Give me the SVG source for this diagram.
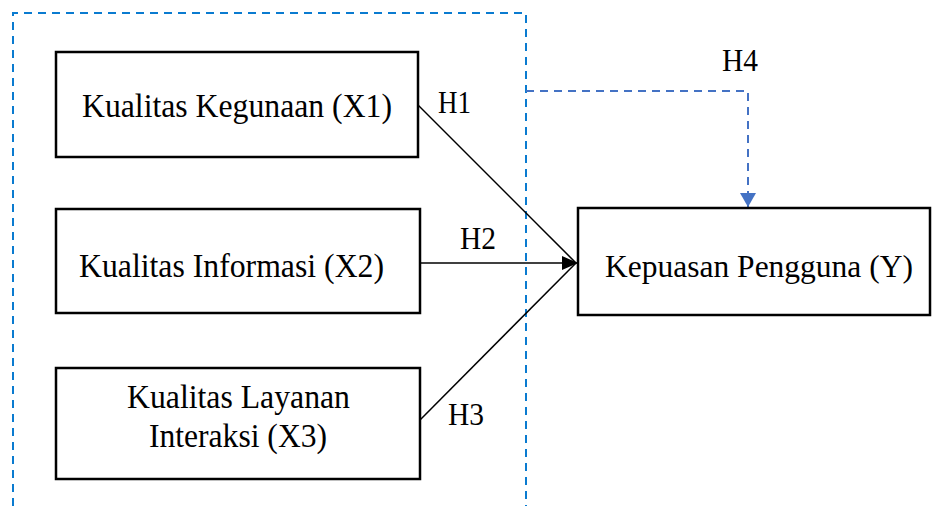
<svg xmlns="http://www.w3.org/2000/svg" width="934" height="506" viewBox="0 0 934 506">
<style>
.box{fill:#fff;stroke:#000;stroke-width:2.5}
.t{font-family:"Liberation Serif","Times New Roman",serif;font-size:34px;fill:#000}
.h{font-family:"Liberation Serif","Times New Roman",serif;font-size:31px;fill:#000}
.c{text-anchor:middle}
.ln{stroke:#000;stroke-width:1.5;fill:none}
.outer{stroke:#0A7BD0;stroke-width:2;fill:none;stroke-dasharray:8 6}
.h4{stroke:#4472C4;stroke-width:2;fill:none;stroke-dasharray:8 6}
</style>
<defs>
<marker id="ah" markerWidth="16" markerHeight="14" refX="16" refY="7" orient="auto" markerUnits="userSpaceOnUse" viewBox="0 0 16 14"><path d="M0,0 L16,7 L0,14 z" fill="#000"/></marker>
<marker id="ahb" markerWidth="14" markerHeight="16" refX="14" refY="8" orient="auto" markerUnits="userSpaceOnUse" viewBox="0 0 14 16"><path d="M0,0 L14,8 L0,16 z" fill="#4472C4"/></marker>
</defs>
<rect width="934" height="506" fill="#fff"/>
<path class="outer" d="M13,506 L13,13 L526,13 L526,506"/>
<g id="connectors">
<line class="ln" x1="418" y1="105" x2="576" y2="263"/>
<line class="ln" x1="420" y1="420" x2="576" y2="263"/>
<line class="ln" x1="420" y1="263" x2="578" y2="263" stroke-width="2.5" marker-end="url(#ah)"/>
<path class="h4" d="M526,91 L748,91 L748,207" marker-end="url(#ahb)"/>
<text class="h" x="438" y="113" textLength="33" lengthAdjust="spacingAndGlyphs">H1</text>
<text class="h" x="460" y="249" textLength="36" lengthAdjust="spacingAndGlyphs">H2</text>
<text class="h" x="448" y="425" textLength="36" lengthAdjust="spacingAndGlyphs">H3</text>
<text class="h" x="722" y="71" textLength="36" lengthAdjust="spacingAndGlyphs">H4</text>
</g>
<g id="x1">
<rect class="box" x="56" y="52" width="362" height="105"/>
<text class="t" x="82" y="117" textLength="310" lengthAdjust="spacingAndGlyphs">Kualitas Kegunaan (X1)</text>
</g>
<g id="x2">
<rect class="box" x="56" y="209" width="364" height="104"/>
<text class="t" x="79" y="277" textLength="305" lengthAdjust="spacingAndGlyphs">Kualitas Informasi (X2)</text>
</g>
<g id="x3">
<rect class="box" x="56" y="368" width="364" height="111"/>
<text class="t" x="127" y="408" textLength="223" lengthAdjust="spacingAndGlyphs">Kualitas Layanan</text>
<text class="t" x="149" y="447" textLength="178" lengthAdjust="spacingAndGlyphs">Interaksi (X3)</text>
</g>
<g id="y">
<rect class="box" x="578" y="208" width="352" height="107"/>
<text class="t c" x="759" y="277" style="font-size:31.5px">Kepuasan Pengguna (Y)</text>
</g>
</svg>
